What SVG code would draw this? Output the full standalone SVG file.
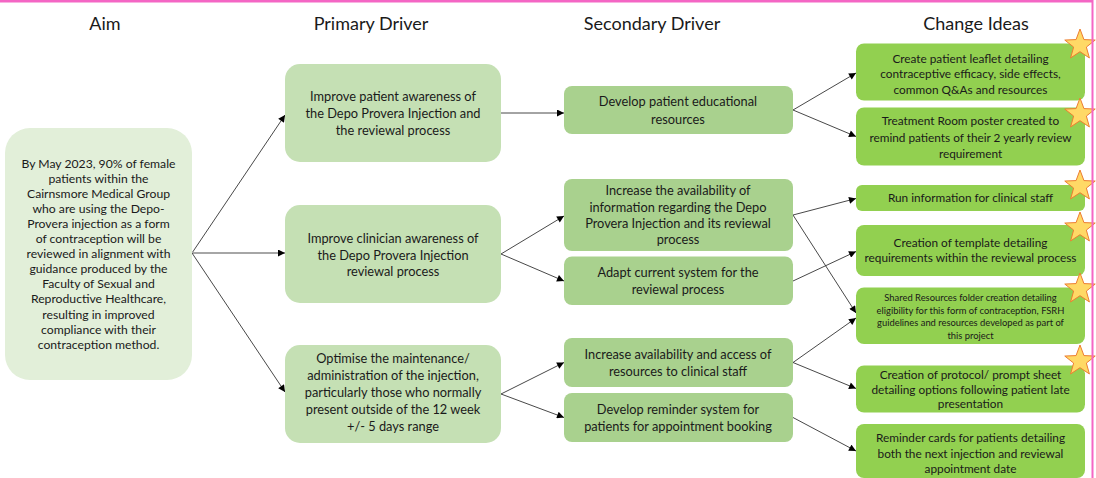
<svg xmlns="http://www.w3.org/2000/svg" xmlns:xlink="http://www.w3.org/1999/xlink" width="1096" height="478" viewBox="0 0 1096 478">
  <style>
    text { font-family: Lato, "Liberation Sans", sans-serif; fill: #1a1a1a; text-anchor: middle; }
    .hdr { font-size: 18px; }
    .ta { font-size: 12.2px; }
    .t13 { font-size: 12.8px; }
    .t12 { font-size: 11.8px; }
    .t10 { font-size: 9.4px; }
    .aim { fill: #e2efd9; }
    .pri { fill: #c5e0b4; }
    .sec { fill: #a9d18e; }
    .chg { fill: #92d050; }
    .conn { stroke: #333; stroke-width: 0.9; fill: none; marker-end: url(#arrow); }
    .conn-grey { stroke: #a6a6a6; stroke-width: 1.8; fill: none; marker-end: url(#arrow); }
    .star { fill: #ffd966; stroke: #ed7d31; stroke-width: 1; stroke-linejoin: miter; }
    .frame { stroke: #f466c4; fill: none; }
  </style>
  <defs>
    <marker id="arrow" viewBox="0 0 10 10" refX="10" refY="5" markerUnits="userSpaceOnUse" markerWidth="8" markerHeight="7" orient="auto">
      <path d="M0,0 L10,5 L0,10 z" fill="#000"/>
    </marker>
    <polygon id="star" class="star" points="0,-16 3.94,-5.42 15.22,-4.94 6.37,2.07 9.40,12.94 0,6.7 -9.40,12.94 -6.37,2.07 -15.22,-4.94 -3.94,-5.42"/>
  </defs>

  <rect width="1096" height="478" fill="#fff"/>

  <!-- column headings -->
  <g id="headings">
    <text class="hdr" x="105" y="30">Aim</text>
    <text class="hdr" x="371" y="30">Primary Driver</text>
    <text class="hdr" x="652" y="30">Secondary Driver</text>
    <text class="hdr" x="976" y="30">Change Ideas</text>
  </g>

  <!-- connectors -->
  <g id="connectors">
    <line class="conn" x1="192" y1="253" x2="285" y2="115"/>
    <line class="conn-grey" x1="192" y1="253" x2="285" y2="253"/>
    <line class="conn" x1="192" y1="253" x2="285" y2="392"/>
    <line class="conn" x1="501" y1="113" x2="564" y2="113"/>
    <line class="conn" x1="501" y1="254" x2="564" y2="216"/>
    <line class="conn" x1="501" y1="254" x2="564" y2="281"/>
    <line class="conn" x1="501" y1="394" x2="564" y2="362.5"/>
    <line class="conn" x1="501" y1="394" x2="564" y2="417.5"/>
    <line class="conn" x1="793" y1="110" x2="856" y2="73"/>
    <line class="conn" x1="793" y1="110" x2="856" y2="136.5"/>
    <line class="conn" x1="793" y1="215" x2="856" y2="198.5"/>
    <line class="conn" x1="793" y1="215" x2="856" y2="313"/>
    <line class="conn" x1="793" y1="281" x2="856" y2="251.5"/>
    <line class="conn" x1="793" y1="362.5" x2="856" y2="318"/>
    <line class="conn" x1="793" y1="362.5" x2="856" y2="388.5"/>
    <line class="conn" x1="793" y1="417.5" x2="856" y2="451"/>
  </g>

  <!-- aim -->
  <g id="aim">
    <rect class="aim" x="5" y="128" width="187" height="252" rx="25"/>
    <text class="ta" x="98.5" y="167.5">By May 2023, 90% of female</text>
    <text class="ta" x="98.5" y="182.6">patients within the</text>
    <text class="ta" x="98.5" y="197.7">Cairnsmore Medical Group</text>
    <text class="ta" x="98.5" y="212.8">who are using the Depo-</text>
    <text class="ta" x="98.5" y="227.9">Provera injection as a form</text>
    <text class="ta" x="98.5" y="243">of contraception will be</text>
    <text class="ta" x="98.5" y="258.1">reviewed in alignment with</text>
    <text class="ta" x="98.5" y="273.2">guidance produced by the</text>
    <text class="ta" x="98.5" y="288.3">Faculty of Sexual and</text>
    <text class="ta" x="98.5" y="303.4">Reproductive Healthcare,</text>
    <text class="ta" x="98.5" y="318.5">resulting in improved</text>
    <text class="ta" x="98.5" y="333.6">compliance with their</text>
    <text class="ta" x="98.5" y="348.7">contraception method.</text>
  </g>

  <!-- primary drivers -->
  <g id="primary-1">
    <rect class="pri" x="285" y="64" width="216" height="98" rx="15"/>
    <text class="t13" x="393" y="101">Improve patient awareness of</text>
    <text class="t13" x="393" y="118">the Depo Provera Injection and</text>
    <text class="t13" x="393" y="135">the reviewal process</text>
  </g>
  <g id="primary-2">
    <rect class="pri" x="285" y="205" width="216" height="98" rx="15"/>
    <text class="t13" x="393" y="243">Improve clinician awareness of</text>
    <text class="t13" x="393" y="259.5">the Depo Provera Injection</text>
    <text class="t13" x="393" y="276">reviewal process</text>
  </g>
  <g id="primary-3">
    <rect class="pri" x="285" y="345" width="216" height="98" rx="15"/>
    <text class="t13" x="393" y="362.5">Optimise the maintenance/</text>
    <text class="t13" x="393" y="379.5">administration of the injection,</text>
    <text class="t13" x="393" y="396.5">particularly those who normally</text>
    <text class="t13" x="393" y="413.5">present outside of the 12 week</text>
    <text class="t13" x="393" y="430.5">+/- 5 days range</text>
  </g>

  <!-- secondary drivers -->
  <g id="secondary-1">
    <rect class="sec" x="564" y="86" width="229" height="48" rx="8"/>
    <text class="t13" x="678" y="106">Develop patient educational</text>
    <text class="t13" x="678" y="124">resources</text>
  </g>
  <g id="secondary-2">
    <rect class="sec" x="564" y="179" width="229" height="72" rx="8"/>
    <text class="t13" x="678" y="195.2">Increase the availability of</text>
    <text class="t13" x="678" y="211.6">information regarding the Depo</text>
    <text class="t13" x="678" y="228">Provera Injection and its reviewal</text>
    <text class="t13" x="678" y="244.4">process</text>
  </g>
  <g id="secondary-3">
    <rect class="sec" x="564" y="256.5" width="229" height="48.5" rx="8"/>
    <text class="t13" x="678" y="277">Adapt current system for the</text>
    <text class="t13" x="678" y="294">reviewal process</text>
  </g>
  <g id="secondary-4">
    <rect class="sec" x="564" y="338" width="229" height="49" rx="8"/>
    <text class="t13" x="678" y="358.5">Increase availability and access of</text>
    <text class="t13" x="678" y="375.5">resources to clinical staff</text>
  </g>
  <g id="secondary-5">
    <rect class="sec" x="564" y="393" width="229" height="49" rx="8"/>
    <text class="t13" x="678" y="413.5">Develop reminder system for</text>
    <text class="t13" x="678" y="430.5">patients for appointment booking</text>
  </g>

  <!-- change ideas -->
  <g id="change-1">
    <rect class="chg" x="856" y="43.5" width="229" height="57" rx="8"/>
    <text class="t12" x="970.5" y="62.5">Create patient leaflet detailing</text>
    <text class="t12" x="970.5" y="78">contraceptive efficacy, side effects,</text>
    <text class="t12" x="970.5" y="93.5">common Q&amp;As and resources</text>
    <use href="#star" x="1080" y="45"/>
  </g>
  <g id="change-2">
    <rect class="chg" x="856" y="107.5" width="229" height="58" rx="8"/>
    <text class="t12" x="970.5" y="125">Treatment Room poster created to</text>
    <text class="t12" x="970.5" y="141.5">remind patients of their 2 yearly review</text>
    <text class="t12" x="970.5" y="157.5">requirement</text>
    <use href="#star" x="1080" y="114"/>
  </g>
  <g id="change-3">
    <rect class="chg" x="856" y="185" width="229" height="26" rx="6"/>
    <text class="t12" x="970.5" y="201.5">Run information for clinical staff</text>
    <use href="#star" x="1080" y="186"/>
  </g>
  <g id="change-4">
    <rect class="chg" x="856" y="225" width="229" height="51" rx="8"/>
    <text class="t12" x="970.5" y="247">Creation of template detailing</text>
    <text class="t12" x="970.5" y="262">requirements within the reviewal process</text>
    <use href="#star" x="1080" y="228"/>
  </g>
  <g id="change-5">
    <rect class="chg" x="856" y="287.5" width="229" height="56.5" rx="8"/>
    <text class="t10" x="970.5" y="301">Shared Resources folder creation detailing</text>
    <text class="t10" x="970.5" y="313.5">eligibility for this form of contraception, FSRH</text>
    <text class="t10" x="970.5" y="326">guidelines and resources developed as part of</text>
    <text class="t10" x="970.5" y="338.5">this project</text>
    <use href="#star" x="1080" y="289"/>
  </g>
  <g id="change-6">
    <rect class="chg" x="856" y="365.5" width="229" height="47" rx="8"/>
    <text class="t12" x="970.5" y="379">Creation of protocol/ prompt sheet</text>
    <text class="t12" x="970.5" y="393.5">detailing options following patient late</text>
    <text class="t12" x="970.5" y="407.5">presentation</text>
    <use href="#star" x="1080" y="361"/>
  </g>
  <g id="change-7">
    <rect class="chg" x="856" y="424" width="229" height="54" rx="8"/>
    <text class="t12" x="970.5" y="442">Reminder cards for patients detailing</text>
    <text class="t12" x="970.5" y="458">both the next injection and reviewal</text>
    <text class="t12" x="970.5" y="473">appointment date</text>
  </g>

  <!-- page frame -->
  <g id="frame">
    <line class="frame" x1="0" y1="1.2" x2="1093" y2="1.2" stroke-width="2.5"/>
    <line class="frame" x1="1092.5" y1="0" x2="1092.5" y2="478" stroke-width="2"/>
  </g>
</svg>
